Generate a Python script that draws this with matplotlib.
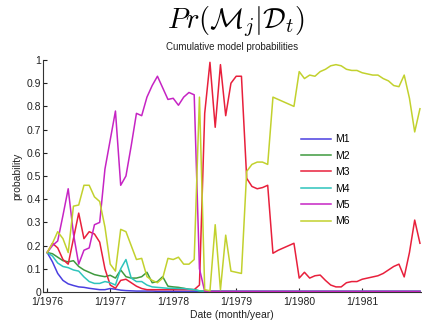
import matplotlib
matplotlib.use("Agg")
import matplotlib.pyplot as plt
import numpy as np

plt.rcParams['mathtext.fontset'] = 'cm'
plt.rcParams['font.family'] = ['Liberation Sans', 'DejaVu Sans']

tick_labels = ['1/1976', '1/1977', '1/1978', '1/1979', '1/1980', '1/1981']
models = ['M1', 'M2', 'M3', 'M4', 'M5', 'M6']

M1 = [0.17, 0.13, 0.08, 0.05, 0.035, 0.028, 0.022, 0.02, 0.016, 0.013, 0.01, 0.01,
      0.015, 0.012, 0.008, 0.006, 0.005, 0.004, 0.004, 0.004, 0.004, 0.003, 0.003, 0.003,
      0.003, 0.003, 0.003, 0.003, 0.003, 0.003, 0.003, 0.003, 0.003, 0.003, 0.003, 0.003,
      0.003, 0.003, 0.003, 0.003, 0.003, 0.003, 0.003, 0.003, 0.003, 0.003, 0.003, 0.003,
      0.003, 0.003, 0.003, 0.003, 0.003, 0.003, 0.003, 0.003, 0.003, 0.003, 0.003, 0.003,
      0.003, 0.003, 0.003, 0.003, 0.003, 0.003, 0.003, 0.003, 0.003, 0.003, 0.003, 0.003]
M2 = [0.17, 0.165, 0.15, 0.135, 0.13, 0.135, 0.11, 0.095, 0.085, 0.075, 0.07, 0.066,
      0.072, 0.06, 0.095, 0.066, 0.06, 0.06, 0.066, 0.085, 0.04, 0.045, 0.066, 0.025,
      0.022, 0.02, 0.016, 0.012, 0.01, 0.005, 0.003, 0.003, 0.003, 0.003, 0.003, 0.003,
      0.002, 0.002, 0.002, 0.002, 0.002, 0.002, 0.002, 0.002, 0.002, 0.002, 0.002, 0.002,
      0.002, 0.002, 0.002, 0.002, 0.002, 0.002, 0.002, 0.002, 0.002, 0.002, 0.002, 0.002,
      0.002, 0.002, 0.002, 0.002, 0.002, 0.002, 0.002, 0.002, 0.002, 0.002, 0.002, 0.002]
M3 = [0.17, 0.21, 0.19, 0.14, 0.12, 0.23, 0.34, 0.23, 0.26, 0.25, 0.215, 0.10,
      0.03, 0.016, 0.05, 0.055, 0.04, 0.025, 0.015, 0.01, 0.01, 0.01, 0.01, 0.01,
      0.01, 0.01, 0.01, 0.01, 0.01, 0.03, 0.77, 0.99, 0.71, 0.98, 0.76, 0.90,
      0.93, 0.93, 0.49, 0.455, 0.445, 0.45, 0.46, 0.167, 0.18, 0.19, 0.20, 0.21,
      0.06, 0.085, 0.06, 0.07, 0.073, 0.05, 0.03, 0.022, 0.022, 0.04, 0.045, 0.045,
      0.055, 0.06, 0.065, 0.07, 0.08, 0.095, 0.11, 0.12, 0.065, 0.17, 0.31, 0.21]
M4 = [0.17, 0.155, 0.125, 0.11, 0.105, 0.095, 0.09, 0.065, 0.045, 0.037, 0.037, 0.045,
      0.04, 0.03, 0.10, 0.14, 0.06, 0.045, 0.045, 0.03, 0.022, 0.02, 0.018, 0.016,
      0.016, 0.015, 0.015, 0.012, 0.01, 0.005, 0.003, 0.003, 0.003, 0.003, 0.003, 0.003,
      0.003, 0.003, 0.003, 0.003, 0.003, 0.003, 0.003, 0.003, 0.003, 0.003, 0.003, 0.003,
      0.003, 0.003, 0.003, 0.003, 0.003, 0.003, 0.003, 0.003, 0.003, 0.003, 0.003, 0.003,
      0.003, 0.003, 0.003, 0.003, 0.003, 0.003, 0.003, 0.003, 0.003, 0.003, 0.003, 0.003]
M5 = [0.17, 0.20, 0.22, 0.33, 0.445, 0.25, 0.12, 0.18, 0.19, 0.29, 0.30, 0.53,
      0.655, 0.78, 0.46, 0.50, 0.63, 0.77, 0.76, 0.84, 0.89, 0.93, 0.88, 0.83,
      0.835, 0.805, 0.84, 0.86, 0.85, 0.10, 0.003, 0.003, 0.003, 0.003, 0.003, 0.003,
      0.003, 0.003, 0.003, 0.003, 0.003, 0.003, 0.003, 0.003, 0.003, 0.003, 0.003, 0.003,
      0.003, 0.003, 0.003, 0.003, 0.003, 0.003, 0.003, 0.003, 0.003, 0.003, 0.003, 0.003,
      0.003, 0.003, 0.003, 0.003, 0.003, 0.003, 0.003, 0.003, 0.003, 0.003, 0.003, 0.003]
M6 = [0.17, 0.21, 0.26, 0.23, 0.17, 0.37, 0.375, 0.46, 0.46, 0.41, 0.39, 0.28,
      0.12, 0.09, 0.27, 0.26, 0.20, 0.14, 0.145, 0.066, 0.05, 0.04, 0.06, 0.145,
      0.14, 0.15, 0.12, 0.12, 0.14, 0.84, 0.01, 0.005, 0.29, 0.01, 0.245, 0.09,
      0.085, 0.08, 0.52, 0.55, 0.56, 0.56, 0.55, 0.84, 0.83, 0.82, 0.81, 0.80,
      0.95, 0.92, 0.935, 0.93, 0.95, 0.96, 0.975, 0.98, 0.975, 0.96, 0.955, 0.955,
      0.945, 0.94, 0.935, 0.935, 0.92, 0.91, 0.89, 0.885, 0.935, 0.835, 0.69, 0.79]

series = [M1, M2, M3, M4, M5, M6]
colors = ['#4a3fe0', '#3f9a3f', '#e8203c', '#2ec4bc', '#c624c4', '#c2d12e']

fig = plt.figure(figsize=(4.22, 3.24), dpi=100)
ax = fig.add_axes([43/422, 32/324, 378/422, 232/324])
months = np.arange(len(M1))
for name, vals, c in zip(models, series, colors):
    ax.plot(months, vals, color=c, lw=1.1, label=name)

ax.set_xlim(-0.8, 71.2)
ax.set_ylim(0, 1)
ax.set_yticks(np.arange(0, 1.01, 0.1))
ax.set_yticklabels(['0', '0.1', '0.2', '0.3', '0.4', '0.5', '0.6', '0.7', '0.8', '0.9', '1'])
ax.set_xticks(np.arange(0, 72, 12))
ax.set_xticklabels(tick_labels)
ax.tick_params(direction='in', length=3, labelsize=7.5, width=0.8, colors='#222222')
ax.tick_params(axis='y', pad=1.5)
ax.tick_params(axis='x', pad=3.5)
for s in ['top', 'right']:
    ax.spines[s].set_visible(False)
for s in ['left', 'bottom']:
    ax.spines[s].set_color('#333333')
    ax.spines[s].set_linewidth(0.8)

ax.set_xlabel('Date (month/year)', fontsize=7.5, labelpad=2.5, color='#222222')
ax.set_ylabel('probability', fontsize=7.5, labelpad=3, color='#222222')

leg = ax.legend(loc='upper left', bbox_to_anchor=(254/378, (292-130)/232), frameon=False,
                fontsize=7.5, handlelength=2.9, handletextpad=0.4, labelspacing=0.62,
                borderaxespad=0)

fig.text(236/422, 1 - 22/324, r'$Pr(\mathcal{M}_j|\mathcal{D}_t)$', ha='center', va='center', fontsize=20.5)
fig.text(232/422, 1 - 47/324, 'Cumulative model probabilities', ha='center', va='center',
         fontsize=7, color='#222222')

fig.savefig('out.png', dpi=100)
